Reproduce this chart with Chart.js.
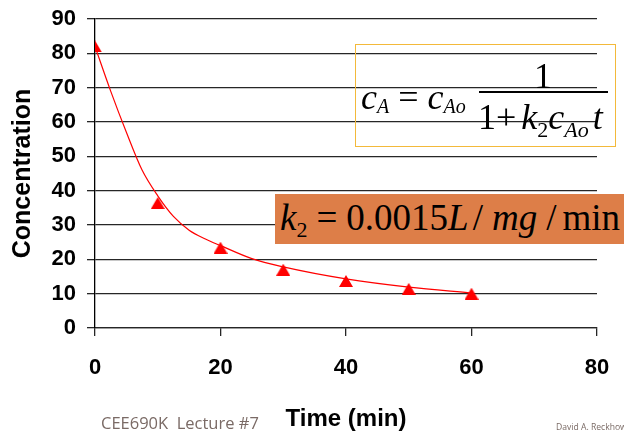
<!DOCTYPE html>
<html>
<head>
<meta charset="utf-8">
<script src="https://cdn.jsdelivr.net/npm/chart.js@4"></script>
<style>
  body { margin: 0; background: #fff; }
  #wrap { position: relative; width: 624px; height: 434px; overflow: hidden; }
  .m { position: absolute; font-family: "Liberation Serif", "Times New Roman", serif; line-height: 1; white-space: nowrap; color: #000; }
  .m i { font-style: italic; }
  .s { font-size: 20px; line-height: 0; vertical-align: -4px; }
  .foot { position: absolute; white-space: nowrap; color: #7a6a65; font-family: "Open Sans", "DejaVu Sans", sans-serif; }
</style>
</head>
<body>
<div id="wrap">
  <canvas id="myChart" width="624" height="434"></canvas>

  <!-- formula box -->
  <div style="position:absolute;left:355px;top:44px;width:261px;height:103px;box-sizing:border-box;border:1.5px solid #f3b93a;"></div>
  <div class="m" style="left:361px;top:79px;font-size:36px;"><i>c</i><span class="s"><i>A</i></span>&nbsp;=&nbsp;<i>c</i><span class="s"><i>Ao</i></span></div>
  <div class="m" style="left:534px;top:58px;font-size:36px;">1</div>
  <div style="position:absolute;left:479px;top:91px;width:129px;height:2px;background:#000;"></div>
  <div class="m" style="left:478px;top:99px;font-size:36px;">1+<i style="margin-left:5px">k</i><span class="s" style="font-size:22px;vertical-align:-8px">2</span><i>c</i><span class="s" style="font-size:22px;vertical-align:-8px"><i>Ao</i></span><i style="margin-left:4px">t</i></div>

  <!-- k2 box -->
  <div style="position:absolute;left:275px;top:194px;width:349px;height:50px;background:rgb(221,126,72);"></div>
  <div class="m" style="left:280px;top:199px;font-size:37px;"><i>k</i><span class="s" style="font-size:22px;vertical-align:-7px">2</span><span style="margin-left:9px">=</span><span style="margin-left:9px">0.0015</span><i>L</i><span style="margin-left:4px">/</span><i style="margin-left:9px">mg</i><span style="margin-left:9px">/</span><span style="margin-left:6px">min</span></div>

  <!-- footer -->
  <div class="foot" style="left:101px;top:411px;font-size:16.5px;">CEE690K&nbsp; Lecture #7</div>
  <div class="foot" style="left:556px;top:421px;font-size:8.6px;">David A. Reckhow</div>
</div>

<script>
// measured points
const timeMin = [0, 10, 20, 30, 40, 50, 60];
const concMeasured = [82, 36.4, 23.4, 17.0, 13.7, 11.4, 10.0];

// fitted curve
const fitTime = [0, 2.5, 5, 7.5, 10, 12.5, 15, 17.5, 20, 25, 30, 40, 50, 60];
const fitConc = [82, 69, 57, 46, 38.5, 32.5, 28.5, 26, 24, 20.2, 17.8, 14.3, 11.9, 10.2];

const xTicks = [0, 20, 40, 60, 80];
const yTicks = [0, 10, 20, 30, 40, 50, 60, 70, 80, 90];

// triangle marker, centred on its box like the spreadsheet one
const tri = document.createElement('canvas');
tri.width = 14; tri.height = 12;
const tctx = tri.getContext('2d');
tctx.fillStyle = '#ff0000';
tctx.beginPath();
tctx.moveTo(7, 0);
tctx.lineTo(14, 12);
tctx.lineTo(0, 12);
tctx.closePath();
tctx.fill();

const gridColor = '#262626';

var ctx = document.getElementById('myChart').getContext('2d');
var myChart = new Chart(ctx, {
    type: 'scatter',
    data: {
        datasets: [{
            label: 'Measured',
            data: timeMin.map((t, i) => ({x: t, y: concMeasured[i]})),
            pointStyle: tri,
            pointRadius: 7,
            showLine: false
        },
        {
            label: 'Model',
            data: fitTime.map((t, i) => ({x: t, y: fitConc[i]})),
            showLine: true,
            borderColor: '#ff0000',
            borderWidth: 1.2,
            pointRadius: 0,
            cubicInterpolationMode: 'monotone',
            fill: false
        }]
    },
    options: {
        responsive: false,
        animation: false,
        events: [],
        layout: { padding: { top: 19, right: 27, left: 0, bottom: 0 } },
        plugins: { legend: { display: false }, tooltip: { enabled: false } },
        scales: {
            x: {
                type: 'linear',
                min: 0,
                max: 80,
                afterFit: (s) => { s.height = 106; s.paddingLeft = 0; s.paddingRight = 0; },
                afterBuildTicks: (s) => { s.ticks = xTicks.map(v => ({value: v})); },
                ticks: {
                    color: '#000',
                    padding: 19,
                    font: { family: 'Liberation Sans', size: 22, weight: 'bold' }
                },
                grid: { drawOnChartArea: false, drawTicks: true, tickLength: 8, color: gridColor, lineWidth: 1.3 },
                border: { display: true, color: gridColor, width: 1.3 },
                title: {
                    display: true,
                    text: 'Time (min)',
                    color: '#000',
                    padding: { top: 0, bottom: 0 },
                    font: { family: 'Liberation Sans', size: 24, weight: 'bold' }
                }
            },
            y: {
                min: 0,
                max: 90,
                afterFit: (s) => { s.width = 95; s.paddingTop = 0; s.paddingBottom = 0; },
                afterBuildTicks: (s) => { s.ticks = yTicks.map(v => ({value: v})); },
                ticks: {
                    color: '#000',
                    padding: 11,
                    font: { family: 'Liberation Sans', size: 22, weight: 'bold' }
                },
                grid: { color: gridColor, lineWidth: 1.3, tickLength: 8 },
                border: { display: true, color: '#000', width: 1.3 },
                title: {
                    display: true,
                    text: 'Concentration',
                    color: '#000',
                    padding: { top: 8, bottom: 0 },
                    font: { family: 'Liberation Sans', size: 25, weight: 'bold' }
                }
            }
        }
    }
});
</script>
</body>
</html>
